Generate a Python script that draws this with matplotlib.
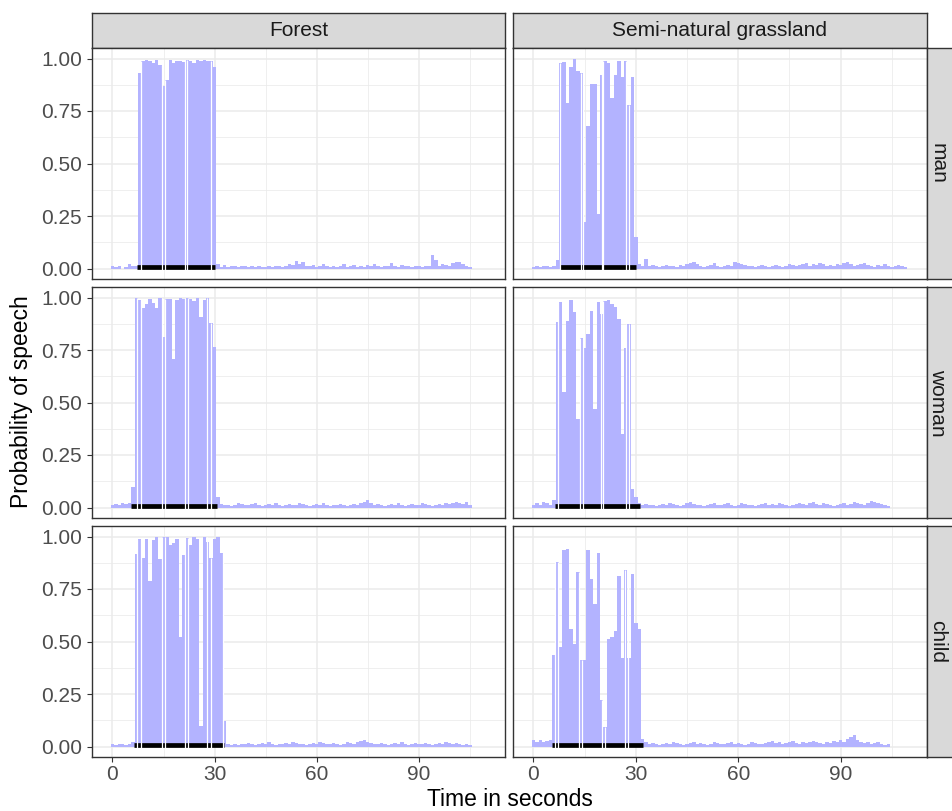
import numpy as np
import matplotlib.pyplot as plt

# probability of speech per second, one list per panel (index = second)
forest_man = [
    0.01, 0.005, 0.01, 0.0, 0.005, 0.02, 0.01, 0.01, 0.93, 0.99,
    0.995, 0.99, 0.98, 0.995, 0.97, 0.87, 0.90, 0.995, 0.98, 0.99,
    0.99, 0.985, 0.995, 0.99, 0.98, 0.995, 0.99, 0.995, 0.99, 0.99,
    0.96, 0.02, 0.005, 0.015, 0.005, 0.01, 0.01, 0.005, 0.01, 0.01,
    0.005, 0.01, 0.005, 0.01, 0.005, 0.005, 0.01, 0.005, 0.01, 0.01,
    0.005, 0.01, 0.02, 0.015, 0.035, 0.02, 0.03, 0.01, 0.01, 0.015,
    0.005, 0.01, 0.02, 0.01, 0.005, 0.01, 0.005, 0.01, 0.02, 0.005,
    0.01, 0.015, 0.005, 0.01, 0.005, 0.015, 0.01, 0.02, 0.01, 0.005,
    0.01, 0.01, 0.025, 0.01, 0.005, 0.015, 0.01, 0.01, 0.005, 0.01,
    0.01, 0.005, 0.01, 0.01, 0.065, 0.04, 0.01, 0.02, 0.015, 0.01,
    0.025, 0.03, 0.03, 0.02, 0.01, 0.005]

semi_man = [
    0.005, 0.01, 0.005, 0.01, 0.01, 0.005, 0.01, 0.04, 0.98, 0.985,
    0.79, 0.96, 1.0, 0.94, 0.93, 0.22, 0.68, 0.88, 0.88, 0.26,
    0.92, 0.99, 0.98, 0.81, 0.92, 0.99, 0.91, 0.99, 0.78, 0.91,
    0.15, 0.02, 0.01, 0.045, 0.01, 0.015, 0.01, 0.005, 0.01, 0.015,
    0.01, 0.01, 0.005, 0.015, 0.01, 0.02, 0.025, 0.03, 0.02, 0.01,
    0.005, 0.01, 0.015, 0.025, 0.01, 0.005, 0.01, 0.015, 0.01, 0.03,
    0.025, 0.02, 0.015, 0.01, 0.01, 0.005, 0.01, 0.015, 0.01, 0.005,
    0.01, 0.015, 0.01, 0.005, 0.01, 0.02, 0.015, 0.01, 0.015, 0.02,
    0.025, 0.01, 0.02, 0.015, 0.025, 0.02, 0.01, 0.015, 0.01, 0.02,
    0.015, 0.025, 0.03, 0.02, 0.01, 0.015, 0.02, 0.025, 0.015, 0.01,
    0.005, 0.015, 0.01, 0.02, 0.01, 0.005, 0.01, 0.015, 0.01, 0.005]

forest_woman = [
    0.01, 0.015, 0.01, 0.02, 0.015, 0.02, 0.10, 0.996, 0.99, 0.95,
    0.97, 0.995, 0.975, 0.95, 1.0, 0.81, 0.995, 0.995, 0.705, 0.99,
    1.0, 0.995, 1.0, 0.995, 0.985, 1.0, 0.905, 0.99, 1.0, 0.877,
    0.763, 0.05, 0.015, 0.01, 0.01, 0.005, 0.01, 0.02, 0.015, 0.01,
    0.01, 0.015, 0.02, 0.01, 0.005, 0.01, 0.015, 0.01, 0.02, 0.01,
    0.005, 0.01, 0.015, 0.01, 0.01, 0.02, 0.015, 0.01, 0.005, 0.01,
    0.015, 0.01, 0.02, 0.01, 0.005, 0.01, 0.01, 0.015, 0.01, 0.005,
    0.01, 0.015, 0.01, 0.02, 0.025, 0.035, 0.02, 0.01, 0.015, 0.01,
    0.005, 0.01, 0.015, 0.01, 0.02, 0.01, 0.005, 0.01, 0.015, 0.01,
    0.01, 0.02, 0.015, 0.01, 0.005, 0.01, 0.015, 0.01, 0.02, 0.015,
    0.02, 0.025, 0.02, 0.015, 0.025, 0.01]

semi_woman = [
    0.01, 0.02, 0.01, 0.025, 0.02, 0.01, 0.036, 0.885, 0.98, 0.55,
    0.89, 0.99, 0.93, 0.42, 0.805, 0.76, 0.825, 0.935, 0.47, 0.98,
    0.92, 0.985, 0.99, 0.97, 0.955, 0.90, 0.35, 0.76, 0.875, 0.087,
    0.05, 0.02, 0.01, 0.015, 0.01, 0.01, 0.005, 0.01, 0.015, 0.01,
    0.02, 0.015, 0.01, 0.005, 0.01, 0.02, 0.025, 0.015, 0.01, 0.01,
    0.005, 0.01, 0.015, 0.02, 0.01, 0.01, 0.015, 0.02, 0.01, 0.005,
    0.01, 0.02, 0.015, 0.01, 0.01, 0.005, 0.01, 0.015, 0.02, 0.01,
    0.015, 0.01, 0.02, 0.015, 0.01, 0.005, 0.01, 0.015, 0.02, 0.015,
    0.01, 0.02, 0.025, 0.015, 0.01, 0.02, 0.015, 0.01, 0.005, 0.01,
    0.015, 0.02, 0.01, 0.015, 0.025, 0.02, 0.015, 0.01, 0.02, 0.03,
    0.025, 0.02, 0.015, 0.01, 0.005]

forest_child = [
    0.01, 0.005, 0.01, 0.01, 0.005, 0.01, 0.02, 0.915, 0.99, 0.90,
    0.99, 0.79, 0.985, 1.0, 0.895, 1.0, 1.0, 0.96, 0.97, 0.99,
    0.52, 0.91, 0.995, 0.96, 1.0, 0.99, 0.10, 1.0, 0.975, 0.90,
    0.99, 1.0, 0.92, 0.12, 0.01, 0.005, 0.01, 0.005, 0.01, 0.01,
    0.015, 0.01, 0.005, 0.01, 0.015, 0.01, 0.02, 0.01, 0.005, 0.01,
    0.01, 0.015, 0.01, 0.02, 0.015, 0.01, 0.01, 0.005, 0.01, 0.015,
    0.01, 0.02, 0.015, 0.01, 0.01, 0.015, 0.01, 0.005, 0.01, 0.02,
    0.015, 0.01, 0.02, 0.025, 0.03, 0.02, 0.015, 0.01, 0.01, 0.015,
    0.01, 0.005, 0.01, 0.015, 0.01, 0.02, 0.01, 0.005, 0.01, 0.015,
    0.01, 0.01, 0.015, 0.01, 0.005, 0.01, 0.015, 0.01, 0.02, 0.015,
    0.01, 0.015, 0.01, 0.005, 0.01, 0.005]

semi_child = [
    0.03, 0.02, 0.03, 0.02, 0.025, 0.03, 0.435, 0.877, 0.475, 0.936,
    0.94, 0.56, 0.49, 0.83, 0.41, 0.41, 0.935, 0.80, 0.68, 0.92,
    0.22, 0.094, 0.51, 0.52, 0.55, 0.81, 0.42, 0.84, 0.42, 0.82,
    0.59, 0.56, 0.035, 0.02, 0.01, 0.015, 0.01, 0.005, 0.01, 0.015,
    0.01, 0.02, 0.015, 0.01, 0.005, 0.01, 0.015, 0.02, 0.01, 0.015,
    0.01, 0.005, 0.01, 0.02, 0.015, 0.01, 0.01, 0.015, 0.02, 0.01,
    0.015, 0.01, 0.005, 0.01, 0.02, 0.015, 0.01, 0.01, 0.015, 0.02,
    0.025, 0.015, 0.02, 0.01, 0.015, 0.02, 0.025, 0.015, 0.01, 0.02,
    0.015, 0.02, 0.025, 0.02, 0.015, 0.01, 0.02, 0.015, 0.025, 0.02,
    0.03, 0.02, 0.035, 0.045, 0.055, 0.03, 0.02, 0.015, 0.02, 0.01,
    0.015, 0.02, 0.01, 0.005, 0.01]

# actual speech interval (black bar) and boundaries between utterances
speech_on_off = {
    ('Forest', 'man'): (7.3, 30.0),
    ('Forest', 'woman'): (5.4, 30.8),
    ('Forest', 'child'): (6.35, 32.9),
    ('Semi-natural grassland', 'man'): (7.7, 30.1),
    ('Semi-natural grassland', 'woman'): (6.3, 31.2),
    ('Semi-natural grassland', 'child'): (5.4, 32.1),
}
utterance_breaks = {
    ('Forest', 'man'): [8.3, 14.5, 15.3, 21.3, 22.0, 29.0],
    ('Forest', 'woman'): [7.3, 8.3, 14.5, 15.3, 21.3, 22.2, 27.9, 29.0],
    ('Forest', 'child'): [7.3, 8.3, 14.5, 15.3, 21.3, 22.2, 27.9, 29.0, 32.4],
    ('Semi-natural grassland', 'man'): [7.7, 14.0, 14.4, 20.1, 20.5, 27.2, 28.0],
    ('Semi-natural grassland', 'woman'): [7.3, 13.5, 14.4, 19.7, 20.5, 27.1, 28.1],
    ('Semi-natural grassland', 'child'): [6.35, 7.3, 13.2, 14.2, 20.0, 21.0, 26.8, 27.8],
}

habitats = ['Forest', 'Semi-natural grassland']
speakers = ['man', 'woman', 'child']
panel_data = {
    ('Forest', 'man'): forest_man,
    ('Forest', 'woman'): forest_woman,
    ('Forest', 'child'): forest_child,
    ('Semi-natural grassland', 'man'): semi_man,
    ('Semi-natural grassland', 'woman'): semi_woman,
    ('Semi-natural grassland', 'child'): semi_child,
}

x_ticks = [0, 30, 60, 90]
y_ticks = [0.0, 0.25, 0.5, 0.75, 1.0]


def main():
    plt.rcParams['font.family'] = ['Liberation Sans', 'DejaVu Sans']
    W, H = 952, 811
    fig = plt.figure(figsize=(W / 100, H / 100), dpi=100)

    def rect(x0, y0, x1, y1):
        # pixel box (top-left origin) -> figure fraction
        return [x0 / W, 1 - y1 / H, (x1 - x0) / W, (y1 - y0) / H]

    cols = [(92, 505), (513, 927)]
    rows = [(48, 279), (287, 518), (526, 757)]
    border = '#333333'

    for j, hab in enumerate(habitats):
        # top strip
        sax = fig.add_axes(rect(cols[j][0], 13, cols[j][1], 48))
        sax.set_facecolor('#D9D9D9')
        sax.set_xticks([])
        sax.set_yticks([])
        for s in sax.spines.values():
            s.set_color(border)
            s.set_linewidth(1.0)
        sax.text(0.5, 0.5, hab, ha='center', va='center', fontsize=15,
                 color='#1A1A1A', transform=sax.transAxes)

        for i, spk in enumerate(speakers):
            ax = fig.add_axes(rect(cols[j][0], rows[i][0], cols[j][1], rows[i][1]))
            vals = np.array(panel_data[(hab, spk)])
            edges = np.arange(len(vals) + 1) - 0.5
            ax.stairs(vals, edges, fill=True, color='#B3B3FF', linewidth=0, zorder=2)

            on, off = speech_on_off[(hab, spk)]
            ax.plot([on, off], [0.008, 0.008], color='black', lw=3.4,
                    solid_capstyle='butt', zorder=3)

            brk = utterance_breaks[(hab, spk)]
            tops = [max(vals[int(np.floor(b))], vals[int(np.ceil(b))]) for b in brk]
            ax.vlines(brk, -0.02, tops, color='white', lw=0.9, zorder=4)

            ax.set_xlim(-6, 115.3)
            ax.set_ylim(-0.05, 1.05)
            ax.set_xticks(x_ticks)
            ax.set_xticks([15, 45, 75, 105], minor=True)
            ax.set_yticks(y_ticks)
            ax.set_yticks([0.125, 0.375, 0.625, 0.875], minor=True)
            ax.grid(which='major', color='#EBEBEB', lw=1.1, zorder=0)
            ax.grid(which='minor', color='#EBEBEB', lw=0.55, zorder=0)
            ax.set_axisbelow(True)
            for s in ax.spines.values():
                s.set_color(border)
                s.set_linewidth(1.0)
            ax.tick_params(which='minor', length=0)
            ax.tick_params(which='major', color=border, width=0.8,
                           labelsize=15, labelcolor='#4D4D4D')

            if j == 0:
                ax.set_yticklabels(['%.2f' % v for v in y_ticks])
                ax.tick_params(axis='y', length=3.6, pad=3.5)
            else:
                ax.tick_params(axis='y', length=0, labelleft=False)
            if i == 2:
                ax.set_xticklabels([str(v) for v in x_ticks])
                ax.tick_params(axis='x', length=3.6, pad=2.5)
            else:
                ax.tick_params(axis='x', length=0, labelbottom=False)

    # right strips (cut by the figure edge like the original)
    for i, spk in enumerate(speakers):
        sax = fig.add_axes(rect(927, rows[i][0], 962, rows[i][1]))
        sax.set_facecolor('#D9D9D9')
        sax.set_xticks([])
        sax.set_yticks([])
        for s in sax.spines.values():
            s.set_color(border)
            s.set_linewidth(1.0)
        fig.text(938 / W, 1 - (rows[i][0] + rows[i][1]) / 2 / H, spk,
                 rotation=-90, ha='center', va='center', fontsize=15, color='#1A1A1A')

    fig.text(22 / W, 1 - 402 / H, 'Probability of speech', rotation=90,
             ha='center', va='center', fontsize=16.5)
    fig.text(509.5 / W, 1 - 800 / H, 'Time in seconds',
             ha='center', va='center', fontsize=16.5)

    fig.savefig('out.png', dpi=100)


main()
